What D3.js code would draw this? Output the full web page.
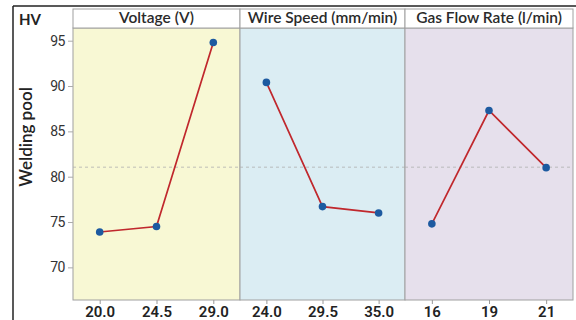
<!DOCTYPE html>
<html>
<head>
<meta charset="utf-8">
<script src="https://cdn.jsdelivr.net/npm/d3@7"></script>
<style>
  html, body { margin: 0; padding: 0; background: #fff; }
  svg { display: block; }
</style>
</head>
<body>
<svg id="chart" width="576" height="320"></svg>
<script>
// Main-effects plot of welding-pool hardness (HV) for three process factors
const factors = ["Voltage (V)", "Wire Speed (mm/min)", "Gas Flow Rate (l/min)"];
const voltageLevels = ["20.0", "24.5", "29.0"];
const voltageMeans = [73.9, 74.5, 94.8];
const wireSpeedLevels = ["24.0", "29.5", "35.0"];
const wireSpeedMeans = [90.4, 76.7, 76.0];
const gasFlowLevels = ["16", "19", "21"];
const gasFlowMeans = [74.8, 87.3, 81.0];
const yTicks = [70, 75, 80, 85, 90, 95];
const grandMean = 81.05;

const panelFills = ["#f8f8d4", "#dbedf3", "#e6e0ec"];

const panels = [
  { name: factors[0], levels: voltageLevels, means: voltageMeans },
  { name: factors[1], levels: wireSpeedLevels, means: wireSpeedMeans },
  { name: factors[2], levels: gasFlowLevels, means: gasFlowMeans }
];

const svg = d3.select("#chart");

const plotTop = 28, plotBottom = 300, stripTop = 9;
const edges = [73, 240, 405, 573];
const tickFont = "Roboto, sans-serif";

const y = d3.scaleLinear().domain([66.4, 96.4]).range([plotBottom, plotTop]);

// outer frame (top and left rules)
svg.append("line").attr("x1", 13).attr("x2", 576).attr("y1", 6).attr("y2", 6)
  .attr("stroke", "#222").attr("stroke-width", 1.5);
svg.append("line").attr("x1", 13).attr("x2", 13).attr("y1", 6).attr("y2", 320)
  .attr("stroke", "#222").attr("stroke-width", 1.5);

// unit label and axis title
svg.append("text").attr("x", 19).attr("y", 25)
  .attr("font-family", "Lato, sans-serif").attr("font-weight", 700)
  .attr("font-size", 15).attr("fill", "#222").text("HV");
svg.append("text")
  .attr("transform", "translate(32,137) rotate(-90)")
  .attr("text-anchor", "middle")
  .attr("font-family", "Lato, sans-serif").attr("font-weight", 600)
  .attr("font-size", 17).attr("fill", "#222").text("Welding pool");

panels.forEach((p, i) => {
  const x0 = edges[i], x1 = edges[i + 1];
  const g = svg.append("g");

  // panel background
  g.append("rect").attr("x", x0).attr("y", plotTop)
    .attr("width", x1 - x0).attr("height", plotBottom - plotTop)
    .attr("fill", panelFills[i]).attr("stroke", "#a0a0a0").attr("stroke-width", 1);

  // strip header
  g.append("rect").attr("x", x0).attr("y", stripTop)
    .attr("width", x1 - x0).attr("height", plotTop - stripTop)
    .attr("fill", "#fff").attr("stroke", "#a0a0a0").attr("stroke-width", 1);
  g.append("text").attr("x", (x0 + x1) / 2).attr("y", plotTop - 5)
    .attr("text-anchor", "middle")
    .attr("font-family", "Lato, sans-serif").attr("font-weight", 600)
    .attr("font-size", 15.5).attr("fill", "#2a2a2a").text(p.name);

  const x = d3.scalePoint().domain(p.levels).range([x0, x1]).padding(0.47);

  // grand-mean reference line
  g.append("line").attr("x1", x0).attr("x2", x1)
    .attr("y1", y(grandMean)).attr("y2", y(grandMean))
    .attr("stroke", "#b0b0b0").attr("stroke-width", 0.8)
    .attr("stroke-dasharray", "3,3");

  // x axis
  const xAxis = d3.axisBottom(x).tickSize(4).tickPadding(2);
  const ax = g.append("g").attr("transform", `translate(0,${plotBottom})`).call(xAxis);
  ax.select(".domain").remove();
  ax.selectAll(".tick line").attr("stroke", "#999");
  ax.selectAll(".tick text")
    .attr("font-family", tickFont).attr("font-size", 15)
    .attr("font-weight", 600).attr("fill", "#222");

  const pts = p.levels.map((l, k) => [x(l), y(p.means[k])]);

  g.append("path").attr("d", d3.line()(pts))
    .attr("fill", "none").attr("stroke", "#c0282d").attr("stroke-width", 1.7);

  g.selectAll("circle").data(pts).join("circle")
    .attr("cx", d => d[0]).attr("cy", d => d[1]).attr("r", 3.8)
    .attr("fill", "#1d5aa0");
});

// y axis
const yAxis = d3.axisLeft(y).tickValues(yTicks).tickSize(5).tickPadding(3);
const ay = svg.append("g").attr("transform", `translate(${edges[0]},0)`).call(yAxis);
ay.select(".domain").remove();
ay.selectAll(".tick line").attr("stroke", "#aaa");
ay.selectAll(".tick text")
  .attr("font-family", tickFont).attr("font-size", 14)
  .attr("letter-spacing", "-0.5px").attr("fill", "#333");
</script>
</body>
</html>
